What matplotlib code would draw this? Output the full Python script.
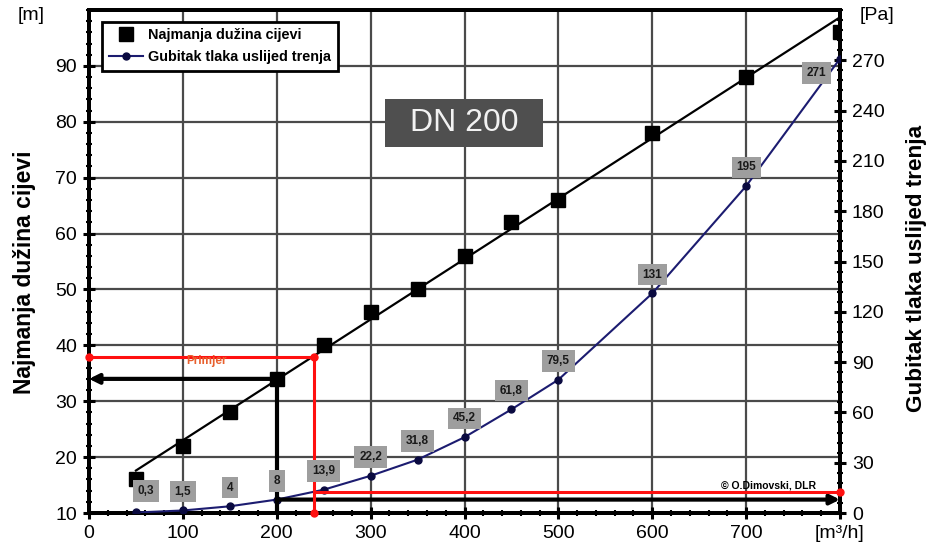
import matplotlib
matplotlib.use("Agg")
import matplotlib.pyplot as plt
from matplotlib.patches import Rectangle
from matplotlib.ticker import MultipleLocator, FixedLocator, FixedFormatter

plt.rcParams['font.family'] = ['Liberation Sans', 'DejaVu Sans']

# ---- data ----
flow = [50, 100, 150, 200, 250, 300, 350, 400, 450, 500, 600, 700, 800]
min_length = [16, 22, 28, 34, 40, 46, 50, 56, 62, 66, 78, 88, 96]
trend_flow = [50, 800]
trend_length = [17.6, 98.7]
pressure_loss = [0.3, 1.5, 4, 8, 13.9, 22.2, 31.8, 45.2, 61.8, 79.5, 131, 195, 271]
loss_labels = ["0,3", "1,5", "4", "8", "13,9", "22,2", "31,8", "45,2", "61,8",
               "79,5", "131", "195", "271"]
x_ticks = [0, 100, 200, 300, 400, 500, 600, 700, 800]
x_ticklabels = ["0", "100", "200", "300", "400", "500", "600", "700", "[m³/h]"]
left_ticks = [10, 20, 30, 40, 50, 60, 70, 80, 90]
right_ticks = [0, 30, 60, 90, 120, 150, 180, 210, 240, 270]

# worked examples
ex_black_flow, ex_black_length, ex_black_loss = 200, 34, 8
ex_red_flow, ex_red_length, ex_red_loss = 240, 38, 12.5


def len_to_pa(v):
    return (v - 10) * 300 / 90


fig = plt.figure(figsize=(9.28, 5.49), dpi=100)
ax = fig.add_axes([89/928, 1-513/549, (840-89)/928, (513-10)/549])
ax2 = ax.twinx()

ax.set_xlim(0, 800)
ax.set_ylim(10, 100)
ax2.set_ylim(0, 300)

grid_c = '#4a4a4a'
ax.set_axisbelow(True)
ax.grid(True, which='major', color=grid_c, lw=1.6)
ax.xaxis.set_major_locator(FixedLocator(x_ticks))
ax.xaxis.set_major_formatter(FixedFormatter(x_ticklabels))
ax.xaxis.set_minor_locator(MultipleLocator(20))
ax.yaxis.set_major_locator(FixedLocator(left_ticks))
ax.yaxis.set_minor_locator(MultipleLocator(2))
ax2.yaxis.set_major_locator(FixedLocator(right_ticks))
ax2.yaxis.set_minor_locator(MultipleLocator(6))

for a in (ax, ax2):
    for s in a.spines.values():
        s.set_linewidth(2.8)
        s.set_color('black')
ax.tick_params(axis='both', which='major', direction='inout', length=9, width=2.2,
               labelsize=14, pad=4)
ax.tick_params(axis='both', which='minor', direction='inout', length=5, width=1.5)
ax2.tick_params(axis='y', which='major', direction='inout', length=9, width=2.2,
                labelsize=14, pad=4)
ax2.tick_params(axis='y', which='minor', direction='inout', length=5, width=1.5)

# black trend line and squares
ax.plot(trend_flow, trend_length, color='black', lw=1.6, zorder=3)
sq, = ax.plot(flow, min_length, ls='none', marker='s', ms=10, color='black',
              zorder=4, label='Najmanja dužina cijevi')

# blue pressure loss series
navy = '#1c1c70'
bl, = ax2.plot(flow, pressure_loss, color=navy, lw=1.5, marker='o', ms=5,
               mfc='#0a0a40', mec='#0a0a40', zorder=4,
               label='Gubitak tlaka uslijed trenja')

for i, (xv, yv, lab) in enumerate(zip(flow, pressure_loss, loss_labels)):
    if i == len(flow) - 1:
        off = (-17, -10.5)
    elif i == 0:
        off = (7, 15.5)
    else:
        off = (0, 13.5)
    ax2.annotate(lab, (xv, yv), xytext=off, textcoords='offset points',
                 ha='center', va='center', fontsize=8.5, fontweight='bold',
                 color='#1a1a1a', zorder=9,
                 bbox=dict(boxstyle='square,pad=0.4', fc='#9e9e9e', ec='none'))

# black example arrows
ax2.annotate('', xy=(0, len_to_pa(ex_black_length)),
             xytext=(ex_black_flow, len_to_pa(ex_black_length)),
             arrowprops=dict(arrowstyle='-|>', color='black', lw=3,
                             mutation_scale=14, shrinkA=0, shrinkB=0), zorder=5)
ax2.plot([ex_black_flow, ex_black_flow], [0, len_to_pa(ex_black_length)],
         color='black', lw=3, zorder=5)
ax2.annotate('', xy=(800, ex_black_loss), xytext=(ex_black_flow, ex_black_loss),
             arrowprops=dict(arrowstyle='-|>', color='black', lw=3,
                             mutation_scale=14, shrinkA=0, shrinkB=0), zorder=5)

# red example lines
red = '#ff1010'
red_y = len_to_pa(ex_red_length)
ax2.plot([0, ex_red_flow], [red_y, red_y], color=red, lw=2.2,
         zorder=6, clip_on=False)
ax2.plot([ex_red_flow, ex_red_flow], [0, red_y], color=red, lw=2.2,
         zorder=6, clip_on=False)
ax2.plot([0, ex_red_flow, ex_red_flow], [red_y, red_y, 0],
         ls='none', marker='o', ms=5, color=red, zorder=7, clip_on=False)
ax2.plot([ex_red_flow, 800], [ex_red_loss, ex_red_loss], color=red, lw=2.2,
         zorder=6, clip_on=False)
ax2.plot([800], [ex_red_loss], ls='none', marker='o', ms=5, color=red,
         zorder=7, clip_on=False)
ax2.text(104, red_y - 2.8, 'Primjer', color='#e8602e', fontsize=8.5,
         fontweight='bold', ha='left', va='center', zorder=6)

ax2.text(774, 16.5, '© O.Dimovski, DLR', fontsize=7.5, fontweight='bold',
         ha='right', va='center', zorder=6)

# DN 200 box
ax2.add_patch(Rectangle((0.394, 0.7276), 0.2105, 0.0955, transform=ax2.transAxes,
                        fc='#4f4f4f', ec='none', zorder=7))
ax2.text(0.4993, 0.775, 'DN 200', transform=ax2.transAxes, ha='center',
         va='center', fontsize=23, color='#f2f2f2', zorder=8)

# legend
leg = ax2.legend(handles=[sq, bl], loc='upper left',
                 bbox_to_anchor=(13/751, 1-12/503), borderaxespad=0,
                 prop={'weight': 'bold', 'size': 10.4}, frameon=True,
                 fancybox=False, borderpad=0.45, handlelength=2.4,
                 labelspacing=0.55, handletextpad=0.35, framealpha=1)
leg.get_frame().set_edgecolor('black')
leg.get_frame().set_linewidth(2)
leg.set_zorder(10)

# axis labels
fig.text(25/928, 1-272/549, 'Najmanja dužina cijevi', rotation=90,
         ha='center', va='center', fontsize=16.5, fontweight='bold')
fig.text(917/928, 1-268/549, 'Gubitak tlaka uslijed trenja', rotation=90,
         ha='center', va='center', fontsize=16.2, fontweight='bold')
fig.text(31/928, 1-16/549, '[m]', ha='center', va='center', fontsize=14)
fig.text(877/928, 1-16/549, '[Pa]', ha='center', va='center', fontsize=14)

fig.savefig('out.png', dpi=100)
